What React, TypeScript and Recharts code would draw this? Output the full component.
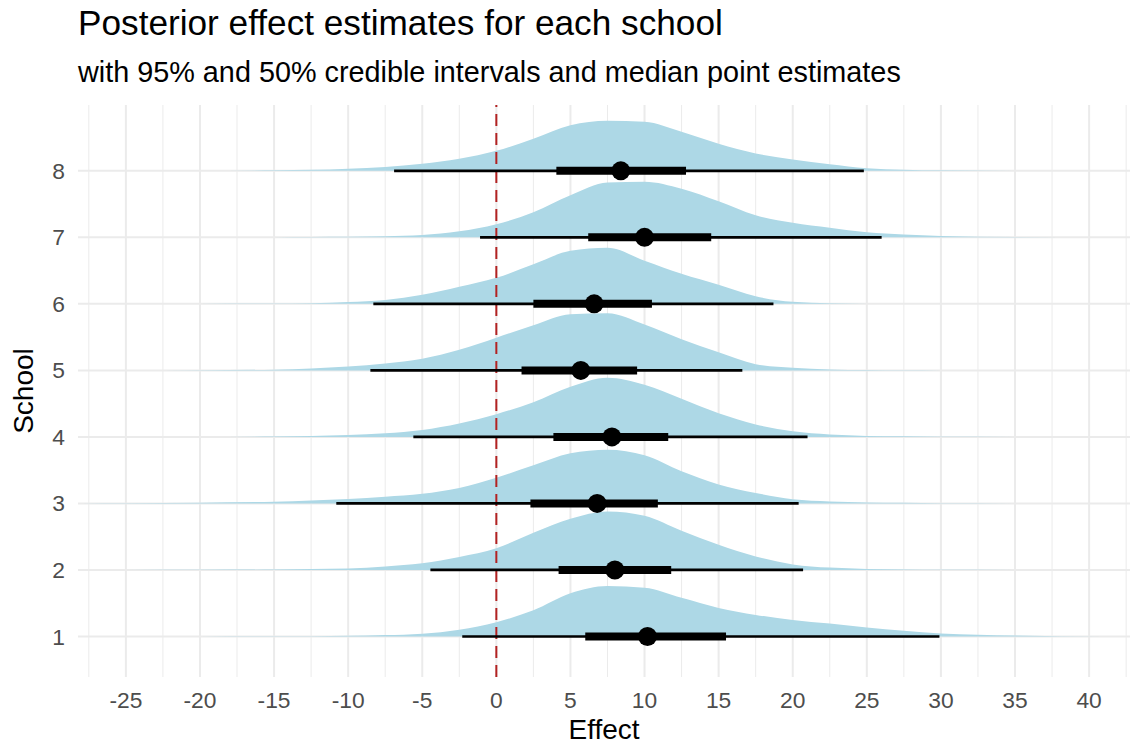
import {
  ComposedChart,
  Area,
  Scatter,
  XAxis,
  YAxis,
  CartesianGrid,
  ReferenceLine,
  Label,
} from "recharts"

// effect grid the slab heights were read on
const effectGrid = [
  -28, -25, -20, -15, -12.5, -10, -7.5, -5, -2.5, 0, 2.5, 5, 7.5, 10, 12.5, 15,
  17.5, 20, 22.5, 25, 27.5, 30, 35, 41,
]

// slab heights (in row units) per school
const density1 = [0, 0, 0, 0.002, 0.003, 0.009, 0.02, 0.041, 0.102, 0.215, 0.392, 0.648, 0.758, 0.733, 0.58, 0.429, 0.324, 0.248, 0.193, 0.136, 0.086, 0.045, 0.015, 0]
const density2 = [0, 0, 0.002, 0.006, 0.012, 0.02, 0.053, 0.101, 0.196, 0.327, 0.557, 0.768, 0.878, 0.813, 0.587, 0.377, 0.203, 0.083, 0.035, 0.015, 0.008, 0.002, 0, 0]
const density3 = [0, 0.003, 0.011, 0.026, 0.045, 0.068, 0.101, 0.146, 0.233, 0.387, 0.572, 0.753, 0.806, 0.723, 0.482, 0.286, 0.158, 0.063, 0.03, 0.015, 0.008, 0.002, 0, 0]
const density4 = [0, 0, 0, 0.006, 0.014, 0.03, 0.056, 0.105, 0.202, 0.342, 0.52, 0.753, 0.889, 0.783, 0.572, 0.354, 0.187, 0.083, 0.036, 0.015, 0.008, 0.002, 0, 0]
const density5 = [0, 0, 0.003, 0.011, 0.03, 0.057, 0.105, 0.176, 0.309, 0.492, 0.678, 0.843, 0.858, 0.688, 0.467, 0.271, 0.093, 0.038, 0.015, 0.006, 0.002, 0, 0, 0]
const density6 = [0, 0, 0.002, 0.005, 0.011, 0.027, 0.06, 0.136, 0.256, 0.392, 0.595, 0.798, 0.843, 0.648, 0.452, 0.286, 0.113, 0.03, 0.009, 0.003, 0, 0, 0, 0]
const density7 = [0, 0, 0, 0.002, 0.005, 0.008, 0.015, 0.035, 0.09, 0.196, 0.377, 0.633, 0.824, 0.836, 0.73, 0.542, 0.331, 0.218, 0.143, 0.075, 0.042, 0.02, 0.006, 0.002]
const density8 = [0, 0, 0, 0.008, 0.015, 0.033, 0.056, 0.105, 0.181, 0.301, 0.482, 0.685, 0.753, 0.738, 0.587, 0.407, 0.261, 0.17, 0.098, 0.039, 0.018, 0.008, 0.002, 0]

const schools = [1, 2, 3, 4, 5, 6, 7, 8]
const lower95 = [-2.3, -4.45, -10.8, -5.6, -8.5, -8.3, -1.1, -6.9]
const lower50 = [6.0, 4.2, 2.3, 3.85, 1.7, 2.5, 6.2, 4.05]
const medians = [10.2, 8.0, 6.8, 7.8, 5.7, 6.6, 10.0, 8.4]
const upper50 = [15.5, 11.8, 10.9, 11.6, 9.5, 10.5, 14.5, 12.8]
const upper95 = [29.9, 20.7, 20.4, 21.0, 16.6, 18.7, 26.0, 24.8]

const majorTicks = [-25, -20, -15, -10, -5, 0, 5, 10, 15, 20, 25, 30, 35, 40]
const minorTicks = [-27.5, -22.5, -17.5, -12.5, -7.5, -2.5, 2.5, 7.5, 12.5, 17.5, 22.5, 27.5, 32.5, 37.5, 42.5]

const densities = [density1, density2, density3, density4, density5, density6, density7, density8]

const slabData = effectGrid.map((x, i) => {
  const row: Record<string, number> = { x }
  schools.forEach((s, k) => {
    row[`d${s}`] = densities[k][i]
  })
  return row
})

const medianPoints = schools.map((s, k) => ({ x: medians[k], y: s }))

const X_DOMAIN: [number, number] = [-28.23, 42.76]
const FONT = "'Liberation Sans', Arial, Helvetica, sans-serif"
const GRID = "#EBEBEB"

export default function App() {
  return (
    <div style={{ position: "absolute", left: 0, top: 0, width: 1130, height: 746, fontFamily: FONT, background: "#fff" }}>
      <svg width={1130} height={100} style={{ position: "absolute", left: 0, top: 0 }}>
        <text x={78} y={35} fontSize={35.2} fill="#000" fontFamily={FONT}>
          Posterior effect estimates for each school
        </text>
        <text x={78} y={82} fontSize={28.8} fill="#000" fontFamily={FONT}>
          with 95% and 50% credible intervals and median point estimates
        </text>
      </svg>
      <ComposedChart
        width={1130}
        height={746}
        data={slabData}
        margin={{ top: 105, right: 0, bottom: 0, left: 0 }}
      >
        {/* minor vertical grid from a hidden axis, then the major grid */}
        <CartesianGrid stroke={GRID} strokeWidth={1} horizontal={false} xAxisId="minor" syncWithTicks />
        <CartesianGrid stroke={GRID} strokeWidth={2} syncWithTicks />
        <XAxis
          xAxisId="minor"
          type="number"
          dataKey="x"
          domain={X_DOMAIN}
          allowDataOverflow
          ticks={minorTicks}
          hide
        />
        <XAxis
          type="number"
          dataKey="x"
          domain={X_DOMAIN}
          allowDataOverflow
          ticks={majorTicks}
          height={69}
          axisLine={false}
          tickLine={false}
          tickSize={0}
          tickMargin={15}
          tick={{ fill: "#4D4D4D", fontSize: 22.8 }}
        >
          <Label
            content={({ viewBox }: any) => (
              <text
                x={viewBox.x + viewBox.width / 2}
                y={viewBox.y + 62}
                textAnchor="middle"
                fontSize={28}
                fill="#000"
              >
                Effect
              </text>
            )}
          />
        </XAxis>
        <YAxis
          type="number"
          domain={[0.39, 8.99]}
          allowDataOverflow
          ticks={schools}
          width={78}
          axisLine={false}
          tickLine={false}
          tickSize={0}
          tickMargin={13}
          tick={{ fill: "#4D4D4D", fontSize: 22.8 }}
        >
          <Label
            content={({ viewBox }: any) => {
              const cx = viewBox.x + 33
              const cy = viewBox.y + viewBox.height / 2
              return (
                <text
                  x={cx}
                  y={cy}
                  transform={`rotate(-90, ${cx}, ${cy})`}
                  textAnchor="middle"
                  fontSize={28}
                  fill="#000"
                >
                  School
                </text>
              )
            }}
          />
        </YAxis>
        {schools.map((s) => (
          <Area
            key={`slab${s}`}
            type="monotone"
            dataKey={(r: any) => [s, s + r[`d${s}`]]}
            fill="#ADD8E6"
            fillOpacity={1}
            stroke="none"
            isAnimationActive={false}
          />
        ))}
        <ReferenceLine x={0} stroke="#B22222" strokeWidth={2} strokeDasharray="12 7" />
        {schools.map((s, k) => (
          <ReferenceLine
            key={`w95${s}`}
            segment={[{ x: lower95[k], y: s }, { x: upper95[k], y: s }]}
            stroke="#000"
            strokeWidth={2.6}
          />
        ))}
        {schools.map((s, k) => (
          <ReferenceLine
            key={`w50${s}`}
            segment={[{ x: lower50[k], y: s }, { x: upper50[k], y: s }]}
            stroke="#000"
            strokeWidth={8}
          />
        ))}
        <Scatter
          data={medianPoints}
          dataKey="y"
          isAnimationActive={false}
          shape={(p: any) => <circle cx={p.cx} cy={p.cy} r={9.5} fill="#000" />}
        />
      </ComposedChart>
    </div>
  )
}
